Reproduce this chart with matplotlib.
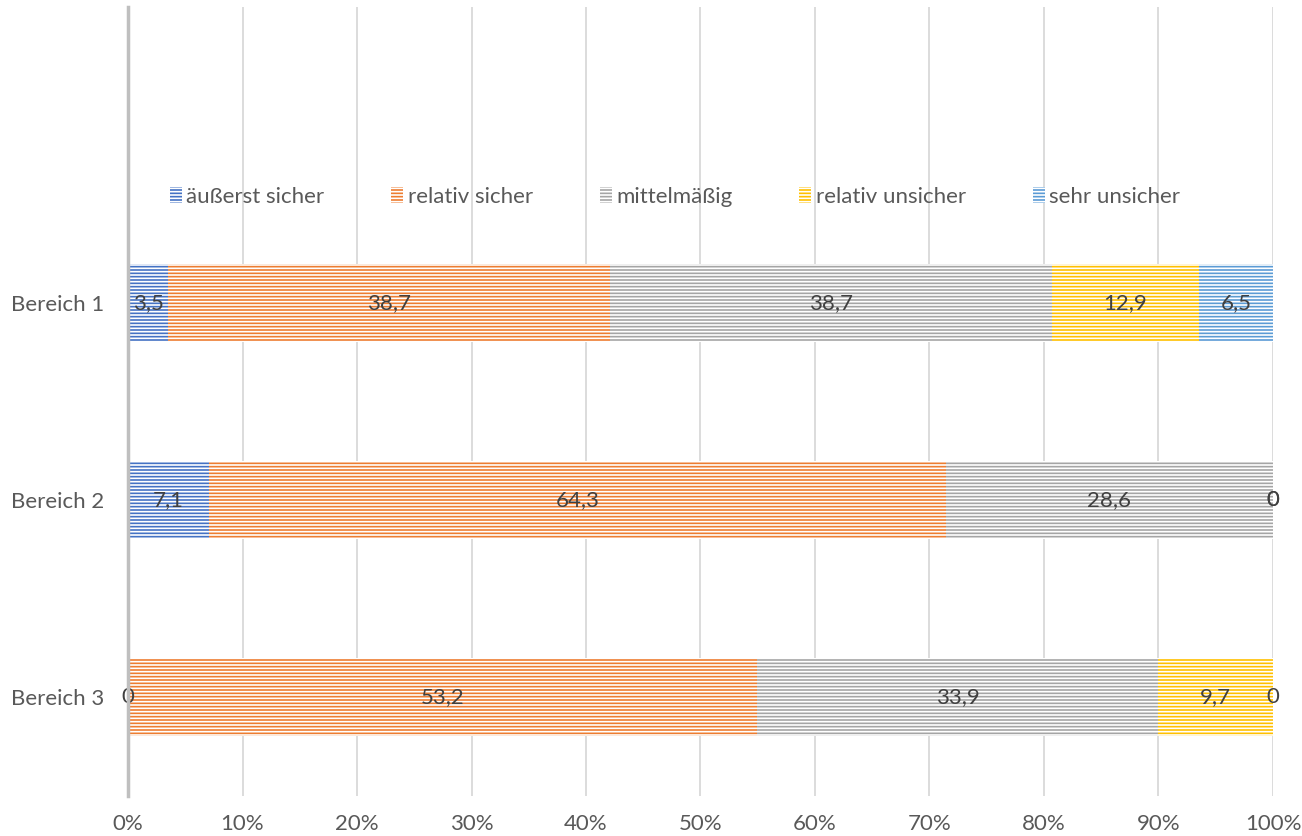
import matplotlib
matplotlib.use("Agg")
import matplotlib.pyplot as plt
import numpy as np

categories = ["Bereich 1", "Bereich 2", "Bereich 3"]
series_names = ["äußerst sicher", "relativ sicher", "mittelmäßig", "relativ unsicher", "sehr unsicher"]
aeusserst_sicher = [3.5, 7.1, 0]
relativ_sicher = [38.7, 64.3, 53.2]
mittelmaessig = [38.7, 28.6, 33.9]
relativ_unsicher = [12.9, 0, 9.7]
sehr_unsicher = [6.5, 0, 0]
colors = ["#4472C4", "#ED7D31", "#A5A5A5", "#FFC000", "#5B9BD5"]
xtick_labels = [f"{p}%" for p in range(0, 101, 10)]

plt.rcParams['font.family'] = ['Lato', 'DejaVu Sans']
plt.rcParams['hatch.linewidth'] = 1.2

series = [aeusserst_sicher, relativ_sicher, mittelmaessig, relativ_unsicher, sehr_unsicher]
data = np.array(series, dtype=float)
totals = data.sum(axis=0)
frac = data / totals

FS = 16

fig = plt.figure(figsize=(13.02, 8.36), dpi=100)
ax = fig.add_axes([128/1302, 40.5/836, (1273-128)/1302, (828.5-40.5)/836])

y = np.arange(len(categories))
left = np.zeros(len(categories))
for i, name in enumerate(series_names):
    ax.barh(y, frac[i], left=left, height=0.396, color=colors[i],
            edgecolor="white", linewidth=0, hatch="-----", label=name, zorder=2)
    for j in range(len(categories)):
        v = data[i, j]
        lab = "0" if v == 0 else f"{v:.1f}".replace(".", ",")
        ax.text(left[j] + frac[i, j] / 2, y[j], lab, ha="center", va="center",
                fontsize=FS, color="#404040", zorder=3)
    left = left + frac[i]

ax.set_xlim(0, 1)
ax.set_ylim(2.5, -1.5)
ax.set_xticks(np.linspace(0, 1, 11))
ax.set_xticklabels(xtick_labels)
ax.set_yticks(y)
ax.set_yticklabels(categories)
ax.tick_params(axis="both", length=0, labelsize=FS, colors="#595959")
ax.tick_params(axis="x", pad=13.5)
ax.tick_params(axis="y", pad=17)
ax.grid(axis="x", color="#D9D9D9", linewidth=1.3, zorder=0)
ax.set_axisbelow(True)
for s in ["top", "right", "bottom"]:
    ax.spines[s].set_visible(False)
ax.spines["left"].set_color("#BFBFBF")
ax.spines["left"].set_linewidth(2.5)
ax.spines["left"].set_zorder(4)

leg = ax.legend(loc="center", bbox_to_anchor=(675/1302, 1 - 197/836), bbox_transform=fig.transFigure,
                ncol=5, frameon=False, fontsize=FS, handlelength=0.55, handleheight=0.7,
                handletextpad=0.2, columnspacing=3.0, labelcolor="#595959")

fig.savefig("out.png", dpi=100)
